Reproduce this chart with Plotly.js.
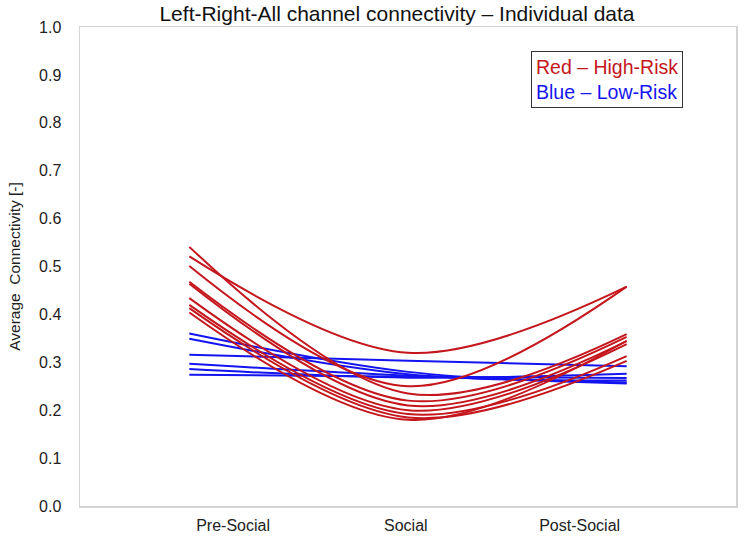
<!DOCTYPE html>
<html>
<head>
<meta charset="utf-8">
<script src="https://cdn.plot.ly/plotly-3.0.1.min.js"></script>
<style>html,body{margin:0;padding:0;background:#fff;}#chart{width:750px;height:552px;}</style>
</head>
<body>
<div id="chart"></div>
<script>
// Phase labels (x axis)
const categories = ['Pre-Social', 'Social', 'Post-Social'];

// High-risk subjects (red), one value per phase
const highRiskPre    = [0.521, 0.501, 0.541, 0.468, 0.464, 0.434, 0.420, 0.413, 0.404];
const highRiskSocial = [0.320, 0.250, 0.235, 0.220, 0.210, 0.200, 0.192, 0.185, 0.180];
const highRiskPost   = [0.458, 0.458, 0.359, 0.353, 0.344, 0.338, 0.313, 0.303, 0.345];

// Low-risk subjects (blue)
const lowRiskPre    = [0.316, 0.360, 0.349, 0.297, 0.286, 0.274];
const lowRiskSocial = [0.303, 0.280, 0.275, 0.272, 0.268, 0.270];
const lowRiskPost   = [0.292, 0.256, 0.262, 0.258, 0.276, 0.267];

const RED = '#C4161C';
const BLUE = '#1414F0';
const xIdx = categories.map((c, i) => i);

const traces = [];
function addGroup(pre, soc, post, color, name) {
  for (let i = 0; i < pre.length; i++) {
    traces.push({
      x: xIdx,
      y: [pre[i], soc[i], post[i]],
      type: 'scatter',
      mode: 'lines',
      name: name,
      showlegend: false,
      line: {color: color, width: 2, shape: 'spline', smoothing: 1},
      hoverinfo: 'skip'
    });
  }
}
addGroup(lowRiskPre, lowRiskSocial, lowRiskPost, BLUE, 'Low-Risk');
addGroup(highRiskPre, highRiskSocial, highRiskPost, RED, 'High-Risk');

const FONT = 'Liberation Sans, Arial, sans-serif';

const layout = {
  width: 750,
  height: 552,
  margin: {l: 80, r: 14, t: 27, b: 46},
  paper_bgcolor: '#fff',
  plot_bgcolor: '#fff',
  showlegend: false,
  font: {family: FONT, color: '#222', size: 16},
  title: {
    text: 'Left-Right-All channel connectivity \u2013 Individual data',
    font: {family: FONT, size: 21, color: '#111'},
    xref: 'container', x: 397 / 750, xanchor: 'center',
    yref: 'container', y: 1 - 14 / 552, yanchor: 'middle'
  },
  xaxis: {
    range: [-0.5, 2.5],
    tickvals: [0.2, 0.99, 1.785],
    ticktext: categories,
    showgrid: false,
    zeroline: false,
    showline: true,
    mirror: true,
    linecolor: '#d4d4d4',
    linewidth: 1.5,
    ticks: '',
    tickfont: {family: FONT, size: 16, color: '#222'},
    ticklabelstandoff: 4
  },
  yaxis: {
    range: [0, 1],
    dtick: 0.1,
    tick0: 0,
    tickformat: '.1f',
    showgrid: false,
    zeroline: false,
    showline: true,
    mirror: true,
    linecolor: '#d4d4d4',
    linewidth: 1.5,
    ticks: '',
    tickfont: {family: FONT, size: 16, color: '#222'},
    ticklabelstandoff: 14,
    title: {text: 'Average  Connectivity [-]', font: {family: FONT, size: 15.5, color: '#222'}, standoff: 14}
  },
  annotations: [{
    xref: 'paper', yref: 'paper',
    x: (607 - 80) / 656, y: (506 - 79.5) / 479,
    xanchor: 'center', yanchor: 'middle',
    text: '<span style="color:' + RED + '">Red \u2013 High-Risk</span><br><span style="color:' + BLUE + '">Blue \u2013 Low-Risk</span>',
    align: 'left',
    showarrow: false,
    font: {family: FONT, size: 19.5},
    bordercolor: '#333',
    borderwidth: 1,
    borderpad: 4,
    bgcolor: '#fff'
  }]
};

Plotly.newPlot('chart', traces, layout, {staticPlot: true, displayModeBar: false});
</script>
</body>
</html>
